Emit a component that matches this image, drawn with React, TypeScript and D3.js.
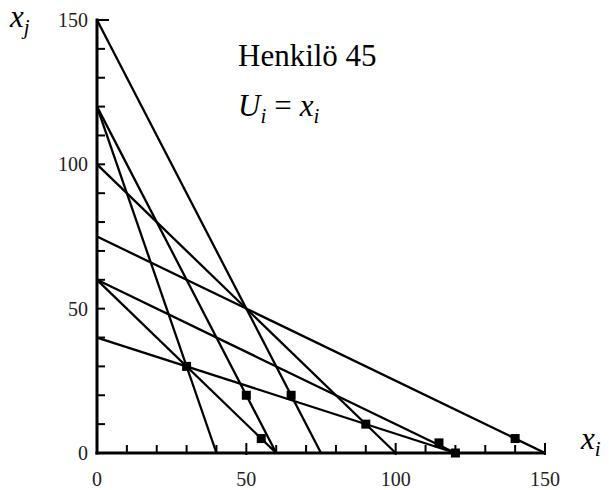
import React from 'react';
import * as d3 from 'd3';

// budget lines: intercepts on x_i axis and x_j axis
const lineXIntercepts = [75, 40, 60, 100, 150, 60, 120, 120];
const lineYIntercepts = [150, 120, 120, 100, 75, 60, 60, 40];

// chosen bundles (filled squares)
const chosenX = [30, 50, 55, 65, 90, 114.5, 120, 140];
const chosenY = [30, 20, 5, 20, 10, 3.5, 0, 5];

const tickLabels = [0, 50, 100, 150];
const minorTicks = d3.range(10, 151, 10);

const title = 'Henkilö 45';

export default function App() {
  const width = 609, height = 490;
  const x = d3.scaleLinear().domain([0, 150]).range([97, 545]);
  const y = d3.scaleLinear().domain([0, 150]).range([453, 20]);

  const line = d3.line<[number, number]>()
    .x(d => x(d[0]))
    .y(d => y(d[1]));

  const serif = {fontFamily: "'Liberation Serif', 'DejaVu Serif', serif"};
  const sq = 9;

  return (
    <svg width={width} height={height} style={{position: 'absolute', left: 0, top: 0, background: '#fff'}}>
      {/* budget lines */}
      <g fill="none" stroke="#000" strokeWidth={2.3}>
        {lineXIntercepts.map((xi, i) => (
          <path key={i} d={line([[0, lineYIntercepts[i]], [xi, 0]]) || ''} />
        ))}
      </g>

      {/* axes */}
      <g stroke="#000" strokeWidth={3}>
        <line x1={x(0)} x2={x(0)} y1={y(0) + 1.5} y2={y(150) - 1.5} />
        <line x1={x(0) - 1.5} x2={x(150) + 1} y1={y(0)} y2={y(0)} />
      </g>
      <g stroke="#000" strokeWidth={2}>
        {minorTicks.map(t => (
          <line key={'yt' + t} x1={x(0)} x2={x(0) + (t === 150 ? 12 : 8)} y1={y(t)} y2={y(t)} />
        ))}
        {minorTicks.map(t => (
          <line key={'xt' + t} x1={x(t)} x2={x(t)} y1={y(0) + (t % 50 === 0 ? 2 : 0)} y2={y(0) - (t % 50 === 0 ? 10 : 8)} />
        ))}
      </g>

      {/* tick labels */}
      <g style={serif} fontSize={20} fill="#222">
        {tickLabels.map(t => (
          <text key={'yl' + t} x={88} y={y(t)} dy="0.35em" textAnchor="end">{t}</text>
        ))}
        {tickLabels.map(t => (
          <text key={'xl' + t} x={x(t)} y={486} textAnchor="middle">{t}</text>
        ))}
      </g>

      {/* chosen points */}
      <g fill="#000">
        {chosenX.map((cx, i) => (
          <rect key={i} x={x(cx) - sq / 2} y={y(chosenY[i]) - sq / 2} width={sq} height={sq} />
        ))}
      </g>

      {/* axis titles */}
      <g style={serif} fontStyle="italic" fill="#000">
        <text x={10} y={27} fontSize={31}>x<tspan fontSize={21} dy={7}>j</tspan></text>
        <text x={581} y={449} fontSize={31}>x<tspan fontSize={21} dy={7}>i</tspan></text>
      </g>

      {/* annotation */}
      <g style={serif} fill="#000">
        <text x={238} y={66} fontSize={31}>{title}</text>
        <text x={238} y={116} fontSize={31}>
          <tspan fontStyle="italic">U</tspan>
          <tspan fontStyle="italic" fontSize={21} dy={7}>i</tspan>
          <tspan dy={-7} dx={8}>=</tspan>
          <tspan fontStyle="italic" dx={8}>x</tspan>
          <tspan fontStyle="italic" fontSize={21} dy={7}>i</tspan>
        </text>
      </g>
    </svg>
  );
}
